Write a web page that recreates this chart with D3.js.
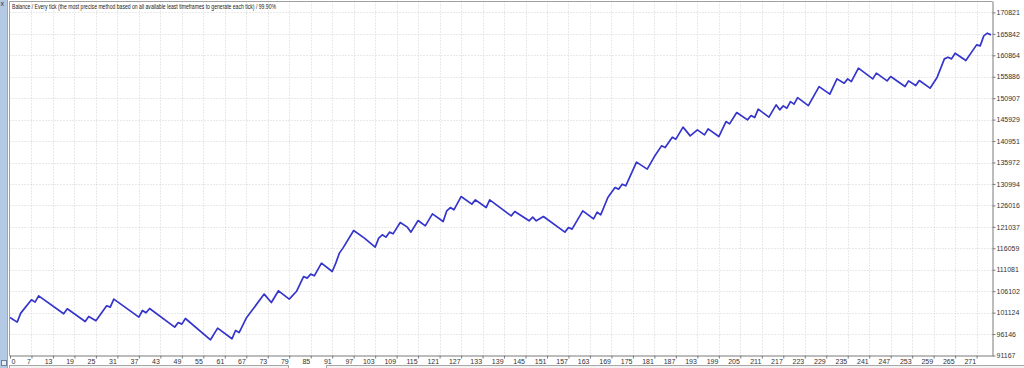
<!DOCTYPE html>
<html>
<head>
<meta charset="utf-8">
<script src="https://cdn.jsdelivr.net/npm/d3@7"></script>
<style>
  body { margin: 0; background: #fff; }
  svg { display: block; font-family: "Liberation Sans", Arial, sans-serif; }
</style>
</head>
<body>
<div id="chart"></div>
<script>
// deal number (0 = initial deposit) at each turning point of the balance curve
const deals = [0, 2, 3, 6, 7, 8, 15, 16, 21, 22, 24, 27, 28, 29, 36, 37, 38, 39, 46, 47, 48, 49,
  56, 58, 62, 63, 64, 66, 71, 73, 75, 78, 80, 82, 83, 84, 85, 87, 90, 91, 92, 93, 96, 99,
  102, 103, 104, 105, 106, 107, 109, 111, 112, 114, 116, 118, 121, 122, 123, 124, 126, 129,
  130, 133, 134, 140, 141, 145, 146, 147, 149, 155, 156, 157, 160, 163, 164, 165, 167, 169,
  170, 171, 172, 175, 178, 180, 182, 183, 185, 186, 188, 190, 192, 194, 195, 198, 200, 201,
  203, 206, 207, 208, 209, 212, 214, 215, 216, 217, 218, 219, 220, 223, 226, 229, 231, 233,
  234, 235, 237, 241, 242, 245, 246, 250, 251, 253, 254, 257, 259, 261, 262, 263, 264, 267,
  270, 271, 272, 273, 274];

const balance = [100000, 98919, 101008, 104095, 103561, 105023, 100846, 102006, 99058, 100219,
  99221, 102703, 102401, 104257, 100080, 101612, 101078, 102076, 97759, 98826, 98455, 99755,
  94811, 97527, 95043, 96970, 96505, 99847, 105418, 103468, 106184, 104257, 106021, 109503,
  109132, 110060, 109666, 112613, 110663, 112613, 114934, 116095, 120179, 118416,
  116327, 118416, 119181, 118647, 119808, 119413, 122036, 120969, 119808, 122501, 121270,
  124056, 122268, 124752, 125518, 124984, 128071, 126307, 127305, 125518, 127305, 123591,
  124589, 122431, 123290, 122431, 123429, 119808, 120876, 120504, 124752, 122895, 124450,
  123822, 127839, 130160, 129788, 130949, 130555, 136055, 134431, 137355, 139839, 139444,
  141857, 141393, 144178, 142160, 143553, 142392, 143785, 141997, 145478, 144944, 147567,
  145872, 146871, 146407, 148356, 146499, 149354, 148194, 149122, 148588, 150120, 149517,
  151049, 149192, 153602, 151838, 155389, 154391, 155389, 154762, 157872, 155389, 156713,
  154925, 155923, 153602, 154925, 153834, 154995, 153232, 155784, 160031, 160426, 160031,
  161353, 159637, 163281, 163049, 165370, 165997, 165600];

const yTicks = [91167, 96146, 101124, 106102, 111081, 116059, 121037, 126016, 130994,
  135972, 140951, 145929, 150907, 155886, 160864, 165842, 170821];

const xTickLabels = [0, 7, 13, 19, 25, 31, 37, 43, 49, 55, 61, 67, 73, 79, 85, 91, 97, 103,
  109, 115, 121, 127, 133, 139, 145, 151, 157, 163, 169, 175, 181, 187, 193, 199, 205, 211,
  217, 223, 229, 235, 241, 247, 253, 259, 265, 271];

const title = "Balance / Every tick (the most precise method based on all available least timeframes to generate each tick) / 99.90%";

const W = 1024, H = 368;
const plot = { left: 9.5, top: 1.5, right: 992.5, bottom: 355.5 };

const svg = d3.select("#chart").append("svg")
  .attr("width", W)
  .attr("height", H);

// window strip on the left + tab bar at the bottom
svg.append("rect").attr("x", 0).attr("y", 0).attr("width", 8).attr("height", H).attr("fill", "#b3c9e4");
svg.append("rect").attr("x", 7).attr("y", 0).attr("width", 1).attr("height", H).attr("fill", "#8fa9cc");
svg.append("text").attr("x", 0.5).attr("y", 6).attr("font-size", 7).attr("fill", "#333").text("x");
svg.append("rect").attr("x", 1.5).attr("y", 360.5).attr("width", 5).attr("height", 5)
  .attr("fill", "#e8eef6").attr("stroke", "#6d7f99");

svg.append("rect").attr("x", 9.5).attr("y", 365.5).attr("width", 279).attr("height", 6)
  .attr("fill", "#f3f3f3").attr("stroke", "#a8a8a8");
svg.append("rect").attr("x", 326.5).attr("y", 365.5).attr("width", 700).attr("height", 6)
  .attr("fill", "#f3f3f3").attr("stroke", "#a8a8a8");

// scales
const x = d3.scaleLinear()
  .domain([0, 270])
  .range([10, 10 + 45 * 21.48]);

const y = d3.scaleLinear()
  .domain([91167, 170821])
  .range([355.5, 12.4]);

svg.append("defs").append("clipPath").attr("id", "clip")
  .append("rect")
  .attr("x", plot.left).attr("y", plot.top)
  .attr("width", plot.right - plot.left).attr("height", plot.bottom - plot.top);

// grid
const grid = svg.append("g").attr("stroke", "#d2d2d2").attr("stroke-dasharray", "1,2");
grid.selectAll("line.v")
  .data(d3.range(6, 271, 6))
  .enter().append("line")
  .attr("class", "v")
  .attr("x1", d => Math.round(x(d)) + 0.5).attr("x2", d => Math.round(x(d)) + 0.5)
  .attr("y1", plot.top).attr("y2", plot.bottom);
grid.selectAll("line.h")
  .data(yTicks.slice(1))
  .enter().append("line")
  .attr("class", "h")
  .attr("x1", plot.left).attr("x2", plot.right)
  .attr("y1", d => Math.round(y(d)) + 0.5).attr("y2", d => Math.round(y(d)) + 0.5);

// frame
svg.append("path")
  .attr("d", `M${plot.left},${plot.bottom}V${plot.top}H${plot.right}`)
  .attr("fill", "none").attr("stroke", "#a0a0a0");

// title
svg.append("text")
  .attr("x", 12).attr("y", 8.5)
  .attr("font-size", 6.6)
  .attr("fill", "#222")
  .attr("textLength", 264)
  .attr("lengthAdjust", "spacingAndGlyphs")
  .text(title);

// balance line
const line = d3.line()
  .x(d => x(d[0]))
  .y(d => y(d[1]));

svg.append("path")
  .datum(d3.zip(deals, balance))
  .attr("clip-path", "url(#clip)")
  .attr("fill", "none")
  .attr("stroke", "#3535cc")
  .attr("stroke-width", 1.7)
  .attr("stroke-linejoin", "round")
  .attr("d", line);

// right axis
const yAxis = svg.append("g")
  .attr("transform", `translate(${plot.right},0)`)
  .call(d3.axisRight(y).tickValues(yTicks).tickSize(3).tickPadding(1).tickFormat(d3.format("d")));
yAxis.select(".domain").attr("d", `M0.5,${plot.top}V${plot.bottom + 1}`).attr("stroke", "#7a7a7a");
yAxis.selectAll(".tick line").attr("stroke", "#7a7a7a");
yAxis.selectAll(".tick text").attr("font-size", 7).attr("fill", "#333").attr("font-family", "Liberation Sans, Arial, sans-serif");

// bottom axis
const xAxis = svg.append("g")
  .attr("transform", `translate(0,${plot.bottom})`)
  .call(d3.axisBottom(x).tickValues(d3.range(0, 271, 6)).tickSize(3)
    .tickFormat((d, i) => xTickLabels[i]));
xAxis.select(".domain").attr("d", `M${plot.left},0.5H${plot.right}`).attr("stroke", "#7a7a7a");
xAxis.selectAll(".tick line").attr("stroke", "#7a7a7a");
xAxis.selectAll(".tick text")
  .attr("font-size", 7).attr("fill", "#333").attr("font-family", "Liberation Sans, Arial, sans-serif")
  .attr("y", 8.5).attr("dy", 0)
  .attr("text-anchor", (d, i) => i === 0 ? "start" : "end")
  .attr("x", (d, i) => i === 0 ? 1 : -1);
</script>
</body>
</html>
